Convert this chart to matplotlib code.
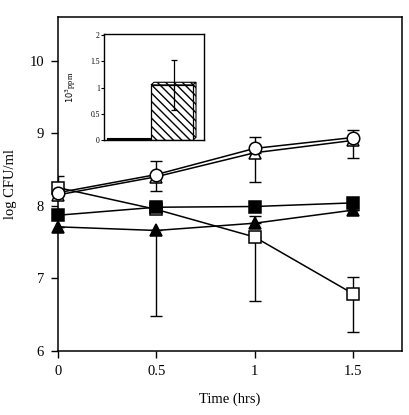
import numpy as np
import matplotlib.pyplot as plt
from matplotlib.patches import Polygon

plt.rcParams['font.family'] = ['Liberation Serif', 'DejaVu Serif']

# dados
tempo = [0, 0.5, 1, 1.5]

q_aberto = [8.25, 7.95, 7.57, 6.79]
q_aberto_inf = [0, 0, 0.88, 0.53]
q_aberto_sup = [0.16, 0, 0, 0.23]

q_cheio = [7.87, 7.98, 7.99, 8.04]

t_cheio = [7.71, 7.66, 7.76, 7.94]
t_cheio_inf = [0, 1.18, 0, 0]
t_cheio_sup = [0, 0, 0.10, 0]

c_aberto = [8.18, 8.43, 8.79, 8.94]
c_aberto_inf = [0, 0, 0, 0]
c_aberto_sup = [0, 0.18, 0.16, 0.11]

t_aberto = [8.15, 8.40, 8.73, 8.90]
t_aberto_inf = [0, 0.19, 0.40, 0.24]
t_aberto_sup = [0, 0, 0, 0]

# inset
barras_x = [0.25, 0.68]
barras_y = [0.02, 1.05]
barras_err = [0, 0.47]

fig = plt.figure(figsize=(4.1, 4.15), dpi=100)
ax = fig.add_axes([58/410, 1 - 351/415, 344/410, 334/415])


def serie(y, marca, cheio, inf=None, sup=None):
    fc = 'black' if cheio else 'white'
    if inf is not None:
        ax.errorbar(tempo, y, yerr=[inf, sup], fmt='none', ecolor='black',
                    elinewidth=1.0, capsize=4.5, capthick=1.0, zorder=2)
    ax.plot(tempo, y, '-', color='black', lw=1.1, marker=marca, ms=9,
            mfc=fc, mec='black', mew=1.1, zorder=3, clip_on=False)


serie(q_aberto, 's', False, q_aberto_inf, q_aberto_sup)
serie(q_cheio, 's', True)
serie(t_cheio, '^', True, t_cheio_inf, t_cheio_sup)
serie(t_aberto, '^', False, t_aberto_inf, t_aberto_sup)
serie(c_aberto, 'o', False, c_aberto_inf, c_aberto_sup)

ax.set_xlim(0, 1.75)
ax.set_ylim(6, 10.6)
ax.set_xticks([0, 0.5, 1, 1.5])
ax.set_xticklabels(['0', '0.5', '1', '1.5'])
ax.set_yticks([6, 7, 8, 9, 10])
ax.tick_params(direction='out', length=5, width=1, labelsize=10.5, pad=5)
for s in ax.spines.values():
    s.set_linewidth(1.1)
ax.set_xlabel('Time (hrs)', fontsize=10.5)
ax.set_ylabel('log CFU/ml', fontsize=10.5)
ax.xaxis.set_label_coords(0.5, -0.125)
ax.yaxis.set_label_coords(-0.12, 0.5)

# inset com aspecto 3D
ins = fig.add_axes([104/410, 1 - 140/415, 100/410, 106/415])
ins.set_xlim(0, 1)
ins.set_ylim(0, 2.02)
ins.set_yticks([0, 0.5, 1, 1.5, 2])
ins.set_yticklabels(['0', '0.5', '1', '1.5', '2'])
ins.set_xticks([])
ins.tick_params(axis='y', direction='out', length=2, labelsize=5.5, pad=1)
ins.set_ylabel(r'$10^3$ppm', fontsize=6)
ins.yaxis.set_label_coords(-0.26, 0.5)
for s in ins.spines.values():
    s.set_linewidth(1.0)

dx, dy = 0.03, 0.05
larg = 0.42
for i, (bx, by) in enumerate(zip(barras_x, barras_y)):
    x0 = bx - larg / 2
    x1 = bx + larg / 2
    if i == 0:
        ins.bar(bx, by, width=larg, color='black', edgecolor='black', lw=1.5)
    else:
        ins.bar(bx, by, width=larg, color='white', edgecolor='black', lw=0.9,
                hatch='\\\\\\\\', zorder=2)
        topo = Polygon([[x0, by], [x0 + dx, by + dy], [x1 + dx, by + dy], [x1, by]],
                       closed=True, fc='white', ec='black', lw=0.8, hatch='\\\\\\\\')
        lado = Polygon([[x1, 0], [x1 + dx, dy], [x1 + dx, by + dy], [x1, by]],
                       closed=True, fc='white', ec='black', lw=0.8, hatch='\\\\\\\\')
        ins.add_patch(topo)
        ins.add_patch(lado)
        ins.errorbar(bx + 0.02, by, yerr=barras_err[i], fmt='none', ecolor='black',
                     elinewidth=0.9, capsize=2.5, capthick=0.9, zorder=3)

fig.savefig('out.png', dpi=100)
